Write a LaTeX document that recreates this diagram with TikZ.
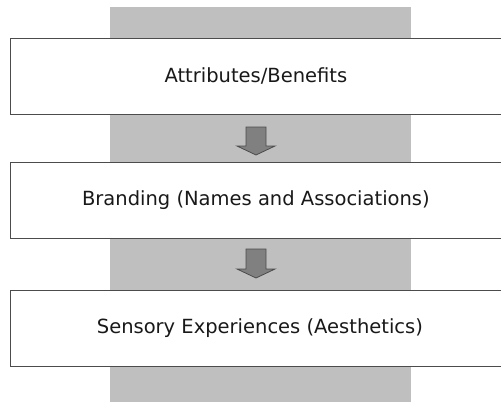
\documentclass[tikz,border=0pt]{standalone}
\usepackage{fontspec}
\setmainfont{DejaVu Sans}
\begin{document}
\begin{tikzpicture}[x=1pt,y=-1pt,
  stagebox/.style={draw=black!70,line width=0.8pt,fill=white,minimum width=491pt,minimum height=76pt,anchor=north west,inner sep=0pt,font=\fontsize{19.5}{23}\selectfont,text=black!90},
  flowarrow/.style={draw=black!70,line width=0.8pt,fill=black!50}]
\useasboundingbox (0,0) rectangle (501,402);
\fill[black!25] (110,7) rectangle (411,402);
\node[stagebox] (b1) at (10,38) {Attributes/Benefits};
\node[stagebox] (b2) at (10,162) {Branding (Names and Associations)};
\node[stagebox] (b3) at (10,290) {\hspace*{8pt}Sensory Experiences (Aesthetics)};
\coordinate (a1) at (256,127);
\coordinate (a2) at (256,249);
\draw[flowarrow] (a1) ++(-10,0) -- ++(20,0) -- ++(0,19) -- ++(9,0) -- ++(-19,9) -- ++(-19,-9) -- ++(9,0) -- cycle;
\draw[flowarrow] (a2) ++(-10,0) -- ++(20,0) -- ++(0,20) -- ++(9,0) -- ++(-19,9) -- ++(-19,-9) -- ++(9,0) -- cycle;
\end{tikzpicture}
\end{document}
